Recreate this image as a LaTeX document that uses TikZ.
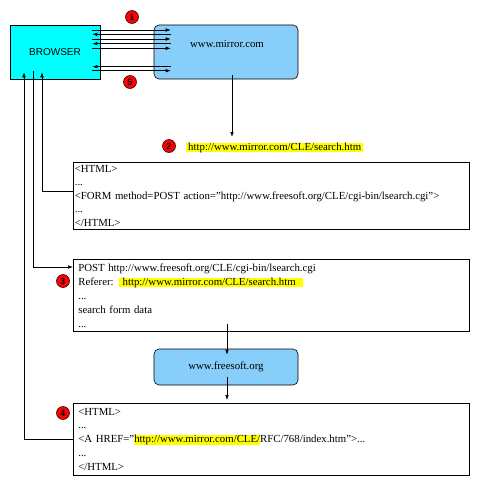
\documentclass[tikz,border=0pt]{standalone}
\usepackage{fontspec}
\setmainfont{Liberation Serif}
\newfontfamily\brfont{Liberation Sans}
\usetikzlibrary{arrows.meta,calc}
\definecolor{skyb}{RGB}{135,206,250}
\definecolor{hlyel}{RGB}{255,255,0}
\definecolor{brcyan}{RGB}{0,255,255}
\newcommand{\hlt}[1]{{\setlength{\fboxsep}{0pt}\colorbox{hlyel}{\rule[-2.2pt]{0pt}{9.6pt}#1}}}
\begin{document}
\begin{tikzpicture}[x=1pt,y=-1pt,
  font=\fontsize{10.8}{13.6}\selectfont,
  tip/.style={-{Latex[length=5pt,width=3.6pt]}, line width=0.6pt},
  hostbox/.style={draw, line width=0.6pt, fill=skyb, rounded corners=5pt, minimum width=144pt, inner sep=0},
  textbox/.style={draw, line width=0.6pt, anchor=north west, minimum width=396pt, align=left, inner ysep=0},
  circ/.style={circle, draw, line width=0.5pt, fill=red, minimum size=13pt, inner sep=0, font=\brfont\fontsize{9}{9}\selectfont\bfseries}]
\useasboundingbox (0,0) rectangle (481,487);

% hosts
\node[draw, line width=0.6pt, fill=brcyan, minimum width=90pt, minimum height=54pt, inner sep=0,
      font=\brfont\fontsize{10}{12}\selectfont] (browser) at (55,52) {BROWSER};
\node[hostbox, minimum height=54pt] (mirror) at (226,52) {};
\node (mirrortxt) at (227,44) {www.mirror.com};
\node[hostbox, minimum height=36pt] (freesoft) at (226,367) {www.freesoft.org};

% number markers
\node[circ] (c1) at (132,17) {1};
\node[circ] (c5) at (130,82) {5};
\node[circ] (c2) at (169,146) {2};
\node[circ] (c3) at (63,281) {3};
\node[circ] (c4) at (63,413) {4};

% URL
\node[fill=hlyel, anchor=west, inner xsep=2pt, inner ysep=0pt, text height=7pt, text depth=2pt] (url1) at (186,147.5) {http://www.mirror.com/CLE/search.htm};

% text boxes
\node[textbox, minimum height=67pt, text width=393pt, inner xsep=1.5pt] (html1) at (73,162)
  {<HTML>\\...\\<FORM method=POST action="http://www.freesoft.org/CLE/cgi-bin/lsearch.cgi">\\...\\</HTML>};
\node[textbox, minimum height=72pt, text width=386pt, inner xsep=5pt, font=\fontsize{10.8}{14}\selectfont] (post) at (73,259)
  {POST http://www.freesoft.org/CLE/cgi-bin/lsearch.cgi\\Referer: \hlt{\ http://www.mirror.com/CLE/search.htm\ \ }\\...\\search form data\\...};
\node[textbox, minimum height=72pt, text width=386pt, inner xsep=5pt, font=\fontsize{10.8}{13.8}\selectfont] (html2) at (73,403)
  {<HTML>\\...\\<A HREF="\hlt{http://www.mirror.com/CLE/}RFC/768/index.htm">...\\...\\</HTML>};

% browser <-> mirror exchanges
\draw[tip] ($(browser.east)+(-8,-22)$) -- ($(mirror.west)+(17,-22)$);
\draw[tip] ($(mirror.west)+(17,-17.7)$) -- ($(browser.east)+(-8,-17.7)$);
\draw[tip] ($(browser.east)+(-8,-13)$) -- ($(mirror.west)+(17,-13)$);
\draw[tip] ($(mirror.west)+(17,-8.3)$) -- ($(browser.east)+(-8,-8.3)$);
\draw[tip] ($(browser.east)+(-8,-3.7)$) -- ($(mirror.west)+(17,-3.7)$);
\draw[tip] ($(mirror.west)+(17,14.7)$) -- ($(browser.east)+(-8,14.7)$);
\draw[tip] ($(browser.east)+(-8,18.7)$) -- ($(mirror.west)+(17,18.7)$);

% mirror -> page
\coordinate (m2) at (232,137);
\draw[tip] ($(mirror.south)+(6,-4)$) -- (m2);

% form -> browser
\draw[tip] ($(html1.north west)+(0,29.5)$) -| ($(browser.south)+(-13,-7)$);
% browser -> POST
\draw[tip] ($(browser.south)+(-22,-8)$) |- ($(post.north west)+(0,8)$);
% link page -> browser
\draw[tip] ($(html2.north west)+(0,36)$) -| ($(browser.south)+(-31,-7)$);

% POST -> freesoft -> page
\draw[tip] ($(post.south -| freesoft.north)+(1,-8)$) -- ($(freesoft.north)+(1,6)$);
\draw[tip] ($(freesoft.south)+(1,-8)$) -- ($(html2.north -| freesoft.south)+(1,-3)$);
\end{tikzpicture}
\end{document}
